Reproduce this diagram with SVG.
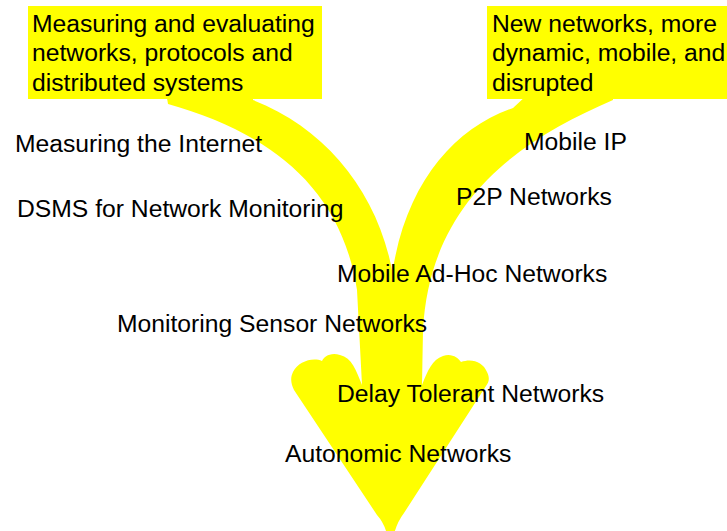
<svg xmlns="http://www.w3.org/2000/svg" width="727" height="531" viewBox="0 0 727 531">
<style>
.y{fill:#ffff00;stroke:none}
.t{font-family:"Liberation Sans",Arial,sans-serif;font-size:24.7px;fill:#000}
</style>
<rect width="727" height="531" fill="#fff"/>
<g id="connectors">
<path class="y" d="M168,104 L166,92 L253,92 L253,100 C330,130 385,200 395,290 L390,291 C400,190 450,130 513,108 L527,95 L613,95 L613,100 C520,140 430,200 423,330 L422,385 C428,370 432,360 443,356 C452,353 458,358 461,362 C472,358 483,362 487,372 C490,378 489,382 486,386 L404,513 Q395,525 393,540 L388,540 Q386,525 377,515 L294,390 C291,384 290,378 293,372 C298,362 312,357 322,361 C324,357 330,352 340,355 C352,358 356,370 362,385 L357,290 C340,180 260,130 168,104 Z"/>
</g>
<g id="box-left">
<rect class="y" x="28" y="6" width="294" height="93"/>
<text class="t" x="32" y="31.5">Measuring and evaluating</text>
<text class="t" x="32" y="61">networks, protocols and</text>
<text class="t" x="32" y="90.5">distributed systems</text>
</g>
<g id="box-right">
<rect class="y" x="487" y="6" width="240" height="93"/>
<text class="t" x="492" y="31.5">New networks, more</text>
<text class="t" x="492" y="61">dynamic, mobile, and</text>
<text class="t" x="492" y="90.5">disrupted</text>
</g>
<g id="n-measuring"><text class="t" x="15" y="151.5">Measuring the Internet</text></g>
<g id="n-dsms"><text class="t" x="17" y="216.5">DSMS for Network Monitoring</text></g>
<g id="n-mobileip"><text class="t" x="524" y="150">Mobile IP</text></g>
<g id="n-p2p"><text class="t" x="456" y="205">P2P Networks</text></g>
<g id="n-manet"><text class="t" x="337" y="281.5">Mobile Ad-Hoc Networks</text></g>
<g id="n-sensor"><text class="t" x="117" y="331.5">Monitoring Sensor Networks</text></g>
<g id="n-dtn"><text class="t" x="337" y="402">Delay Tolerant Networks</text></g>
<g id="n-autonomic"><text class="t" x="285" y="462">Autonomic Networks</text></g>
</svg>
